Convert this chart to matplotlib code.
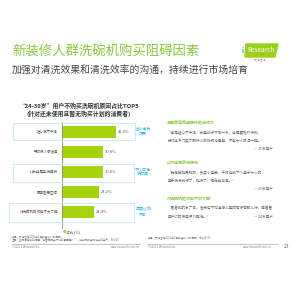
import matplotlib.pyplot as plt
from matplotlib.patches import Rectangle, Polygon

plt.rcParams['font.family'] = ['Noto Sans CJK SC', 'DejaVu Sans']

# data
reasons = ["担心洗不干净", "平时很少做饭用", "认为还是手洗更快", "厨房暂无空间", "对洗碗机的功能不太了解"]
shares = [41.0, 30.8, 30.8, 28.2, 24.4]
groups = {0: "担心清洗\n效果", 2: "不认可清\n洗效率", 4: "品类认知\n不够"}

green = "#a5d30d"
title_green = "#8cc83c"
cyan = "#2aaee6"
box_c = "#bfe9f6"
gray = "#555555"

W, H = 300, 300
fig = plt.figure(figsize=(3, 3), dpi=100)


def fx(x):
    return x / W


def fy(y):
    return 1 - y / H


def t(x, y, s, **kw):
    fig.text(fx(x), fy(y), s, **kw)


# header
t(12, 52, "新装修人群洗碗机购买阻碍因素", fontsize=9.6, color=title_green, va="center")
t(12, 70, "加强对清洗效果和清洗效率的沟通，持续进行市场培育", fontsize=7.1, color="#444444", va="center")

# logo
logo = Polygon([(fx(246), fy(44)), (fx(278), fy(44)), (fx(275), fy(57)), (fx(245), fy(57))],
               closed=True, transform=fig.transFigure, color="#9ccf1c")
fig.patches.append(logo)
t(243, 50.5, "i", fontsize=4.6, color="#2a7fc9", ha="center", va="center", weight="bold")
t(261, 50.5, "Research", fontsize=4.6, color="white", ha="center", va="center", style="italic")
t(260, 60.5, "艾 瑞 咨 询", fontsize=1.8, color="#888888", ha="center", va="center")

# chart title
t(79, 106, "“24-30岁”用户不购买洗碗机原因占比TOP5", fontsize=4.2, color="#333333",
  ha="center", va="center", weight="bold")
t(79, 114, "(针对还未使用且暂无购买计划的消费者)", fontsize=4.2, color="#333333",
  ha="center", va="center", weight="bold")

# highlight boxes
for (x0, y0, x1, y1) in [(13, 122.5, 135, 139.5), (13, 164, 134, 182), (9, 203, 134, 222)]:
    fig.patches.append(Rectangle((fx(x0), fy(y1)), fx(x1 - x0), (y1 - y0) / H,
                                 transform=fig.transFigure, fill=False, ec=box_c, lw=0.6))

# bars
ax_l, ax_r, ax_t, ax_b = 62, 152, 122, 228
ax = fig.add_axes([fx(ax_l), fy(ax_b), fx(ax_r - ax_l), (ax_b - ax_t) / H])
ypos = list(range(len(reasons)))
ax.barh(ypos, shares, height=0.6, color=green)
ax.set_xlim(0, (ax_r - ax_l) / 1.32)
ax.set_ylim(4.8, -0.48)
for s in ["top", "right", "bottom"]:
    ax.spines[s].set_visible(False)
ax.spines["left"].set_color("#888888")
ax.spines["left"].set_linewidth(0.6)
ax.set_xticks([])
ax.set_yticks([])
ax.patch.set_alpha(0)
for i, (r, v) in enumerate(zip(reasons, shares)):
    ax.text(-3, i, r, fontsize=2.5, color=gray, ha="right", va="center")
    ax.text(v + 1.5, i, f"{v:.1f}%", fontsize=2.9, color=gray, ha="left", va="center")
for i, g in groups.items():
    ax.text(61.5, i, g, fontsize=2.9, color=cyan, ha="center", va="center", linespacing=1.4)

# legend
t(62.5, 232, "●", fontsize=2.6, color=green, va="center")
t(66, 232, "占比 (%)", fontsize=2.6, color=gray, va="center")

# right side quotes
right = [
    (123, "母婴家庭希望更好的清洁力",
     ["“还是担心不干净，家里孩子才刚一岁，还是要格外讲究，",
      "我们还专门买了那种小的奶瓶消毒器，不能大人的混一起。”"],
     "— 25岁用户", 148),
    (163, "认为还是手洗更快",
     ["“我感觉挺费劲的，去买小盒装，平时也放下个盘子什么的，",
      "用手洗洗就行了，挺快了，现在还省电。”"],
     "— 26岁用户", 188),
    (198.5, "对洗碗机的功能不太了解",
     ["“看着别的家广告，但我也不知道怎么用的有没有那么好，等着看",
      "用户们的使用评价再说。”"],
     "— 24岁用户", 216.5),
]
for y, head, lines, who, wy in right:
    t(167, y, head, fontsize=2.9, color=title_green, va="center", weight="bold")
    for k, ln in enumerate(lines):
        t(168, y + 10 + 8 * k, ln, fontsize=2.6, color="#666666", va="center", style="italic")
    t(273, wy, who, fontsize=2.6, color="#666666", ha="right", va="center")

# footer
t(12, 236, "来源：艾瑞咨询2021年5月新装修人群调研。", fontsize=1.9, color="#777777", va="center")
t(12, 240, "注释：此为问卷中的问题“您暂无购买计划的原因是？”，样本为所选群体中的用户，N=243",
  fontsize=1.9, color="#777777", va="center")
t(148, 237.5, "来源：艾瑞咨询2021年5月新装修人群调研，访谈N=16", fontsize=1.9, color="#777777", va="center")
fig.add_artist(plt.Line2D([fx(12), fx(140)], [fy(243.5), fy(243.5)], color="#999999", lw=0.4))
fig.add_artist(plt.Line2D([fx(148), fx(278)], [fy(243.5), fy(243.5)], color="#999999", lw=0.4))
t(12, 247.5, "©2021.5 iResearch Inc.", fontsize=1.9, color="#777777", va="center")
t(140, 247.5, "www.iresearch.com.cn", fontsize=1.9, color="#777777", va="center", ha="right")
t(148, 247.5, "©2021.5 iResearch Inc.", fontsize=1.9, color="#777777", va="center")
t(272, 247.5, "www.iresearch.com.cn", fontsize=1.9, color="#777777", va="center", ha="right")
t(284, 247, "23", fontsize=3.6, color="#666666", va="center")

fig.savefig("out.png", dpi=100)
